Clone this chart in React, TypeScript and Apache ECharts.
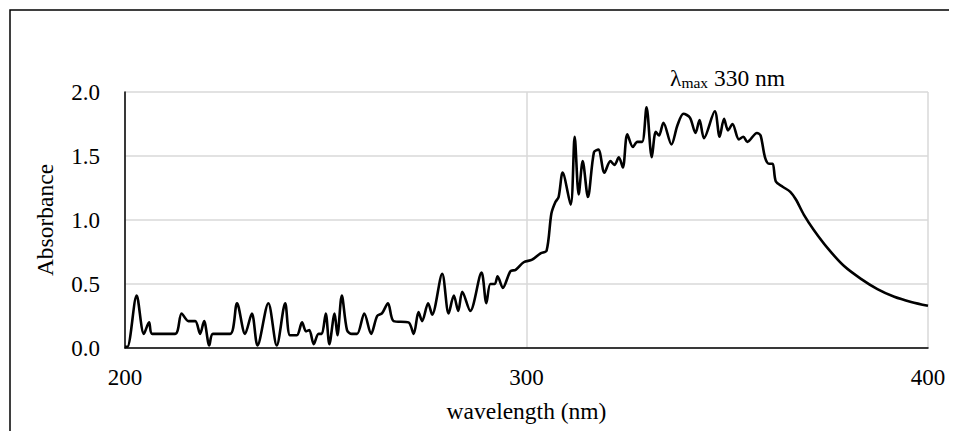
import React, { useEffect, useRef } from "react";
import * as echarts from "echarts";

const wavelength: number[] = [
  200.0, 200.6, 202.9, 204.7, 206.0, 206.8, 212.5, 214.1, 215.8, 217.5, 218.7, 219.7, 221.0, 221.9,
  226.2, 227.9, 229.9, 231.6, 233.0, 235.7, 237.8, 239.9, 241.1, 242.8, 244.1, 245.1, 245.9, 247.0,
  248.2, 249.0, 250.0, 250.9, 252.2, 252.9, 254.0, 255.3, 256.5, 257.8, 259.6, 261.3, 262.8, 264.0,
  265.5, 266.9, 270.6, 271.9, 273.1, 274.0, 275.5, 276.5, 279.0, 280.6, 281.9, 283.0, 284.0, 286.0,
  288.8, 290.0, 291.0, 292.1, 292.8, 294.1, 296.0, 297.3, 299.3, 301.4, 303.5, 305.0, 306.2, 307.2,
  308.0, 309.0, 311.0, 312.0, 313.0, 314.0, 315.3, 316.8, 317.9, 319.4, 320.9, 321.9, 323.0, 324.0,
  325.1, 326.5, 327.6, 328.8, 329.9, 331.2, 332.2, 333.0, 334.1, 336.1, 337.6, 339.1, 340.7, 342.1,
  343.1, 344.2, 346.9, 348.1, 349.2, 350.2, 351.3, 352.9, 354.0, 355.0, 357.4, 358.3, 359.4, 360.4,
  361.3, 362.1, 363.8, 365.7, 367.1, 369.1, 371.6, 375.0, 379.1, 383.3, 387.4, 391.6, 395.8, 400.0,
];

const absorbance: number[] = [
  0.01, 0.01, 0.41, 0.11, 0.2, 0.11, 0.11, 0.27, 0.21, 0.21, 0.11, 0.21, 0.02, 0.11,
  0.11, 0.35, 0.11, 0.27, 0.02, 0.35, 0.02, 0.35, 0.1, 0.1, 0.2, 0.13, 0.14, 0.03,
  0.11, 0.11, 0.27, 0.03, 0.27, 0.1, 0.41, 0.14, 0.11, 0.11, 0.27, 0.11, 0.25, 0.27,
  0.35, 0.21, 0.2, 0.11, 0.28, 0.21, 0.35, 0.26, 0.58, 0.27, 0.41, 0.29, 0.44, 0.29,
  0.59, 0.35, 0.5, 0.5, 0.56, 0.47, 0.6, 0.61, 0.67, 0.69, 0.74, 0.76, 1.05, 1.14,
  1.18, 1.37, 1.12, 1.65, 1.2, 1.46, 1.18, 1.53, 1.55, 1.37, 1.46, 1.43, 1.49, 1.41,
  1.67, 1.57, 1.61, 1.61, 1.88, 1.49, 1.69, 1.66, 1.76, 1.59, 1.74, 1.83, 1.8, 1.68,
  1.78, 1.64, 1.85, 1.65, 1.79, 1.7, 1.75, 1.63, 1.65, 1.61, 1.68, 1.66, 1.49, 1.44,
  1.44, 1.3, 1.26, 1.22, 1.16, 1.04, 0.92, 0.78, 0.64, 0.54, 0.46, 0.4, 0.36, 0.33,
];

const xTicks = { min: 200, max: 400, interval: 100 };
const yTicks = { min: 0, max: 2, interval: 0.5 };

const FONT = "'Liberation Serif', 'Times New Roman', serif";

export default function App() {
  const ref = useRef<HTMLDivElement>(null);
  useEffect(() => {
    if (!ref.current) return;
    const chart = echarts.init(ref.current, null, { renderer: "svg" });
    const data = wavelength.map((w, i) => [w, absorbance[i]]);
    chart.setOption({
      animation: false,
      backgroundColor: "#ffffff",
      textStyle: { fontFamily: FONT, color: "#000" },
      grid: { left: 117, right: 21, top: 84, bottom: 83 },
      xAxis: {
        type: "value",
        min: xTicks.min,
        max: xTicks.max,
        interval: xTicks.interval,
        name: "wavelength (nm)",
        nameLocation: "middle",
        nameGap: 51,
        nameTextStyle: { fontFamily: FONT, fontSize: 23.5, color: "#000" },
        axisLine: { show: true, onZero: false, lineStyle: { color: "#000", width: 1.5 } },
        axisTick: { show: false },
        axisLabel: { fontFamily: FONT, fontSize: 23, color: "#000", margin: 18 },
        splitLine: { show: true, lineStyle: { color: "#d9d9d9", width: 1.5 } },
      },
      yAxis: {
        type: "value",
        min: yTicks.min,
        max: yTicks.max,
        interval: yTicks.interval,
        name: "Absorbance",
        nameLocation: "middle",
        nameGap: 68,
        nameTextStyle: { fontFamily: FONT, fontSize: 23.5, color: "#000" },
        axisLine: { show: true, lineStyle: { color: "#000", width: 1.5 } },
        axisTick: { show: false },
        axisLabel: {
          fontFamily: FONT,
          fontSize: 23,
          color: "#000",
          margin: 25,
          formatter: (v: number) => v.toFixed(1),
        },
        splitLine: { show: true, lineStyle: { color: "#d9d9d9", width: 1.5 } },
      },
      graphic: [
        {
          type: "polyline",
          shape: { points: [[2, 3000], [2, 2], [3000, 2]] },
          style: { fill: "none", stroke: "#000", lineWidth: 1.5 },
          silent: true,
          z: 10,
        },
        {
          type: "text",
          x: 662,
          y: 70,
          style: {
            text: "{a|λ}{b|max}{a| 330 nm}",
            rich: {
              a: { fontFamily: FONT, fontSize: 23.5, fill: "#000" },
              b: { fontFamily: FONT, fontSize: 15.5, fill: "#000", verticalAlign: "bottom", padding: [6, 0, 0, 0] },
            },
            verticalAlign: "middle",
            align: "left",
          },
        },
      ],
      series: [
        {
          type: "line",
          data,
          smooth: 0.3,
          showSymbol: false,
          lineStyle: { color: "#000", width: 2.6 },
          itemStyle: { color: "#000" },
        },
      ],
    });
    return () => chart.dispose();
  }, []);
  return <div ref={ref} style={{ width: 941, height: 423 }} />;
}
